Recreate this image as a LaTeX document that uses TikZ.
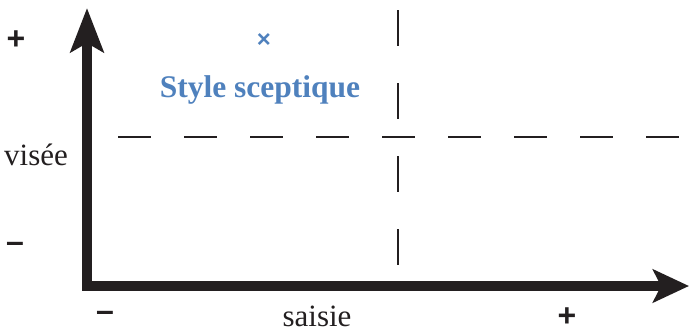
\documentclass[tikz,border=0pt]{standalone}
\usepackage{fontspec}
\setmainfont{Liberation Serif}
\newfontfamily\signfont{Liberation Sans}
\usetikzlibrary{arrows.meta}
\definecolor{accentblue}{RGB}{79,129,189}
\definecolor{ink}{RGB}{35,31,32}
\tikzset{
  axis/.style={line width=10pt, ink, line join=miter,
    arrows={Stealth[length=44pt,width=33pt,inset=9pt]-Stealth[length=36pt,width=33pt,inset=8pt]}},
  guide/.style={line width=2.2pt, ink},
  sign/.style={font=\signfont\bfseries\fontsize{32}{32}\selectfont, text=ink, inner sep=0pt},
  axlabel/.style={font=\fontsize{31}{31}\selectfont, text=ink, inner sep=0pt},
  stylelabel/.style={font=\bfseries\fontsize{31.5}{31.5}\selectfont, text=accentblue, inner sep=0pt},
}
\begin{document}
\begin{tikzpicture}[x=1pt,y=-1pt]
  \useasboundingbox (0,0) rectangle (690,332);

  % quadrant guides
  \coordinate (hL) at (118,137);
  \coordinate (hR) at (680,137);
  \coordinate (vT) at (398,10);
  \coordinate (vB) at (398,266);
  \draw[guide, dash pattern=on 33pt off 33pt] (hL) -- (hR);
  \draw[guide, dash pattern=on 36pt off 37pt] (vT) -- (vB);

  % axes
  \coordinate (top) at (87,8);
  \coordinate (origin) at (87,286);
  \coordinate (right) at (689,286);
  \draw[axis] (top) -- (origin) -- (right);

  % axis labels and signs
  \node[sign] (yplus) at (16,40) {+};
  \node[sign] (yminus) at (15,247) {–};
  \node[sign] (xminus) at (105,316) {–};
  \node[sign] (xplus) at (567,317) {+};
  \node[axlabel, anchor=base] (ylab) at (36,165) {visée};
  \node[axlabel, anchor=base] (xlab) at (317,326) {saisie};

  % marked position
  \node[text=accentblue, font=\signfont\bfseries\fontsize{24}{24}\selectfont, inner sep=0pt] (mark) at (264,41) {×};
  \node[stylelabel, anchor=base] (style) at (260,97) {Style sceptique};
\end{tikzpicture}
\end{document}
